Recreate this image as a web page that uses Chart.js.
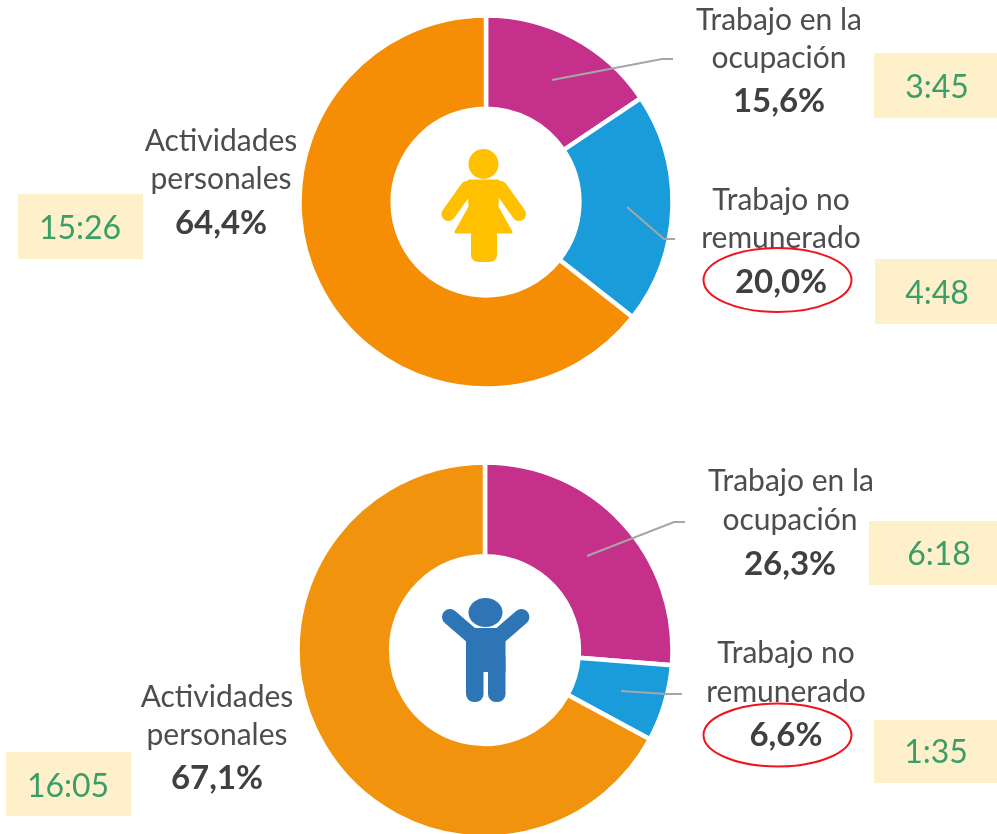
<!DOCTYPE html>
<html lang="es">
<head>
<meta charset="utf-8">
<script src="https://cdn.jsdelivr.net/npm/chart.js@4/dist/chart.umd.min.js"></script>
<style>
html,body{margin:0;padding:0;background:#fff;overflow:hidden;width:997px;height:834px}
#stage{position:relative;width:997px;height:834px;overflow:hidden;font-family:Lato,"Open Sans",sans-serif}
canvas{position:absolute}
svg{position:absolute;left:0;top:0}
.t{position:absolute;transform:translate(-50%,-50%);white-space:nowrap;line-height:1}
.n{font-size:30px;color:#4d4d4d;letter-spacing:0}
.b{font-size:33px;font-weight:700;color:#404040}
.box{position:absolute;background:#FFF0CC}
.time{font-size:32px;color:#3A9E68}
</style>
</head>
<body>
<div id="stage">
<canvas id="mujeres" width="380" height="380" style="left:296px;top:12px"></canvas>
<canvas id="hombres" width="380" height="380" style="left:295px;top:460px"></canvas>
<svg width="997" height="834" viewBox="0 0 997 834" fill="none">
  <g stroke="#A6A6A6" stroke-width="2">
    <polyline points="552,80 662,59 673,59"/>
    <polyline points="627,207 664,239 675,239"/>
    <polyline points="587,556 674,522 685,522"/>
    <polyline points="621,691 667,694 682,694"/>
  </g>
  <g stroke="#F0141E" stroke-width="2">
    <ellipse cx="777.5" cy="280" rx="74" ry="32"/>
    <ellipse cx="777.5" cy="735" rx="74" ry="31.5"/>
  </g>
  <g fill="#FFC000">
    <circle cx="483.5" cy="164" r="15"/>
    <path d="M469,181 L498,181 L497,207 L511,232 L456,232 L470,207 Z" stroke="#FFC000" stroke-width="3" stroke-linejoin="round"/>
    <rect x="471" y="228" width="26" height="34" rx="7"/>
    <path d="M467,188 L448.5,214 M500.5,188 L519,214" stroke="#FFC000" stroke-width="14" stroke-linecap="round"/>
  </g>
  <g fill="#2E75B6">
    <ellipse cx="485.5" cy="612.5" rx="17" ry="14.5"/>
    <rect x="466" y="628" width="39.5" height="44"/>
    <rect x="466" y="650" width="17.5" height="52" rx="8"/>
    <rect x="488" y="650" width="17.5" height="52" rx="8"/>
    <path d="M450,617 L472,636 M521.4,617 L499.4,636" stroke="#2E75B6" stroke-width="16" stroke-linecap="round"/>
  </g>
</svg>
</div>
<script>
const categorias = ['Trabajo en la ocupación', 'Trabajo no remunerado', 'Actividades personales'];
const mujeresPct = [15.6, 20.0, 64.4];
const hombresPct = [26.3, 6.6, 67.1];
const mujeresHoras = ['3:45', '4:48', '15:26'];
const hombresHoras = ['6:18', '1:35', '16:05'];
const coloresMujeres = ['#C5318A', '#1A9CDB', '#F58D05'];
const coloresHombres = ['#C5318A', '#1A9CDB', '#F2930D'];

const coma = v => v.toFixed(1).replace('.', ',') + '%';

function donut(id, data, colors, radius, cutout) {
  new Chart(document.getElementById(id), {
    type: 'doughnut',
    data: { labels: categorias, datasets: [{ data, backgroundColor: colors, borderColor: '#fff', borderWidth: 4.5 }] },
    options: {
      responsive: false, animation: false, radius, cutout,
      plugins: { legend: { display: false }, tooltip: { enabled: false } }
    }
  });
}
donut('mujeres', mujeresPct, coloresMujeres, 186.5, 94);
donut('hombres', hombresPct, coloresHombres, 187.5, 94);

const stage = document.getElementById('stage');
function text(str, x, y, cls) {
  const d = document.createElement('div');
  d.className = 't ' + cls;
  d.textContent = str;
  d.style.left = x + 'px';
  d.style.top = y + 'px';
  stage.appendChild(d);
}
function box(x, y, w, h, str, tx, ty) {
  const d = document.createElement('div');
  d.className = 'box';
  d.style.cssText = `left:${x}px;top:${y}px;width:${w}px;height:${h}px`;
  stage.appendChild(d);
  text(str, tx, ty, 'time');
}

text('Trabajo en la', 779, 18, 'n'); text('ocupación', 779, 56, 'n'); text(coma(mujeresPct[0]), 779, 99, 'b');
text('Trabajo no', 781, 198, 'n'); text('remunerado', 781, 236, 'n'); text(coma(mujeresPct[1]), 781, 280, 'b');
text('Actividades', 221, 139, 'n'); text('personales', 221, 177, 'n'); text(coma(mujeresPct[2]), 221, 221, 'b');
text('Trabajo en la', 791, 479, 'n'); text('ocupación', 790, 518, 'n'); text(coma(hombresPct[0]), 790, 562, 'b');
text('Trabajo no', 786, 651, 'n'); text('remunerado', 786, 690, 'n'); text(coma(hombresPct[1]), 786, 733, 'b');
text('Actividades', 217, 695, 'n'); text('personales', 217, 733, 'n'); text(coma(hombresPct[2]), 217, 776, 'b');

box(874, 53, 123, 65, mujeresHoras[0], 937, 86);
box(875, 259, 122, 65, mujeresHoras[1], 937, 292);
box(18, 194, 125, 65, mujeresHoras[2], 80, 227);
box(869, 521, 128, 64, hombresHoras[0], 939, 553);
box(874, 720, 123, 63, hombresHoras[1], 936, 751);
box(6, 752, 125, 64, hombresHoras[2], 68, 785);
</script>
</body>
</html>
